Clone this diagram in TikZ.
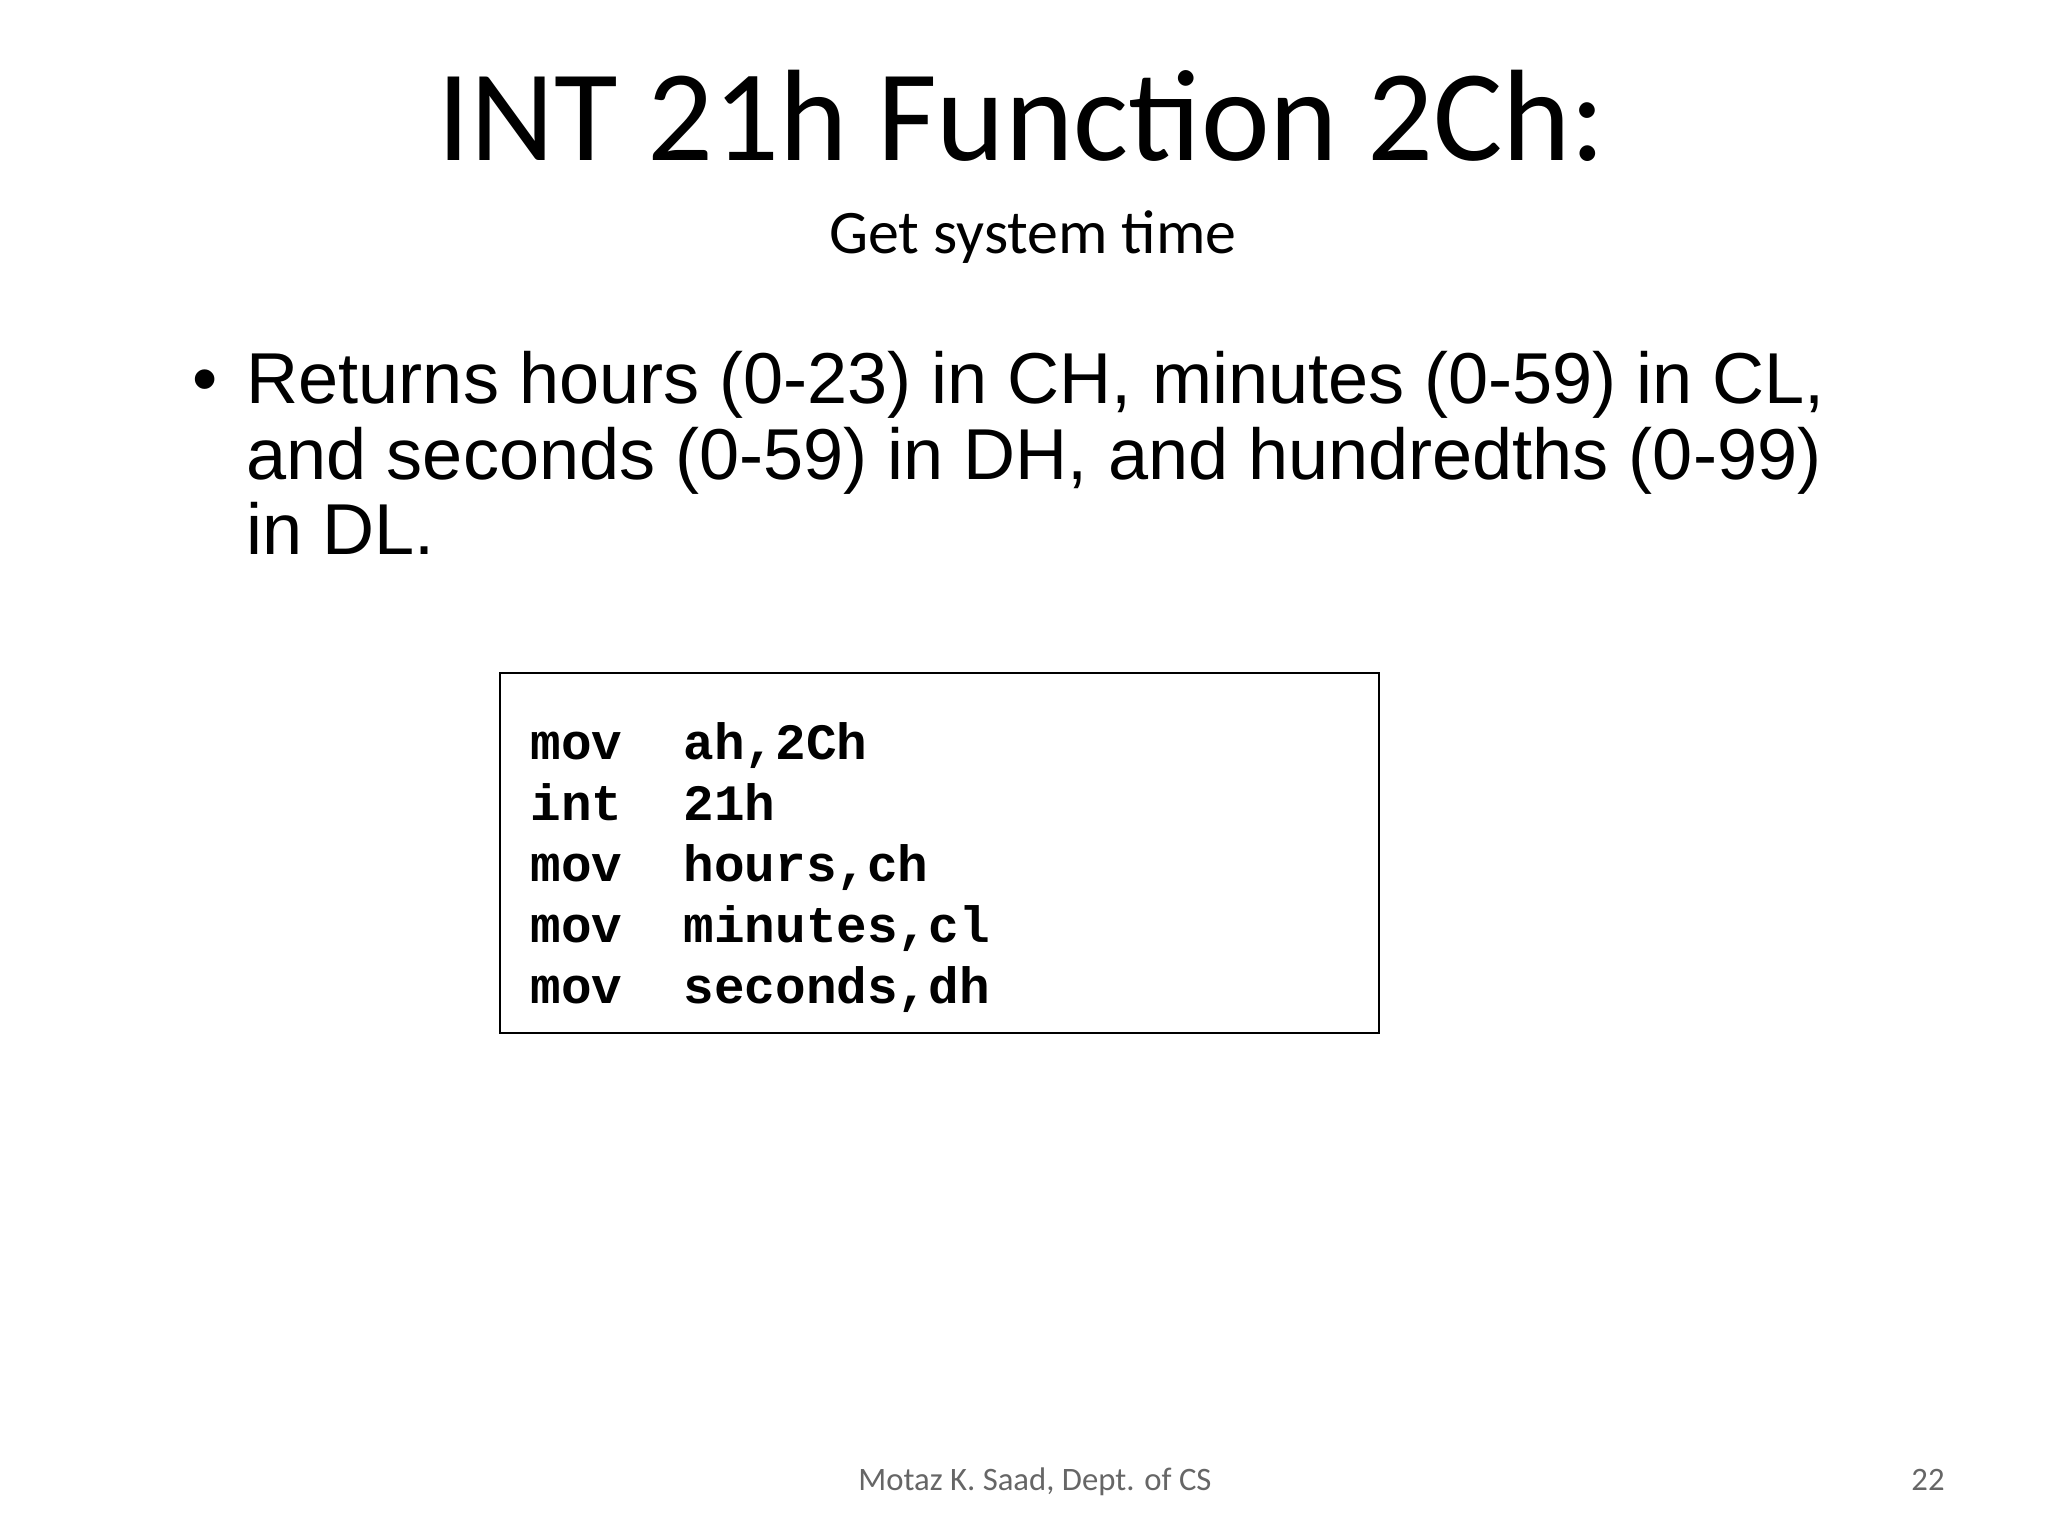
\documentclass[tikz,border=0pt]{standalone}
\usepackage{fontspec}
\setmainfont{Carlito}
\newfontfamily\arialf{Liberation Sans}
\newfontfamily\courf{Liberation Mono}
\begin{document}
\begin{tikzpicture}[x=0.01cm,y=-0.01cm,
  title/.style={font=\fontsize{37}{40}\selectfont},
  sub/.style={font=\fontsize{17.6}{20}\selectfont},
  body/.style={font=\arialf\fontsize{20.5}{21.6}\selectfont,anchor=base west,inner sep=0},
  code/.style={font=\courf\bfseries\fontsize{14.5}{17.4}\selectfont,anchor=base west,inner sep=0},
  foot/.style={font=\fontsize{9.3}{11}\selectfont,text=black!60,anchor=base}]
\useasboundingbox (0,0) rectangle (2048,1536);
\node[title,anchor=base] (t) at (1022,160) {INT 21h Function 2Ch:};
\node[sub,anchor=base] (s) at (1033,253) {Get system time};
\node[body] (b) at (192,403) {•};
\node[body] (l1) at (246,403) {Returns hours (0-23) in CH, minutes (0-59) in CL,};
\node[body] (l2) at (246,479) {and seconds (0-59) in DH, and hundredths (0-99)};
\node[body] (l3) at (246,554) {in DL.};
\draw[line width=0.8pt] (500,673) rectangle (1379,1033);
\node[code] (c1) at (530,759) {mov\ \ ah,2Ch};
\node[code] (c2) at (530,820) {int\ \ 21h};
\node[code] (c3) at (530,881) {mov\ \ hours,ch};
\node[code] (c4) at (530,942) {mov\ \ minutes,cl};
\node[code] (c5) at (530,1003) {mov\ \ seconds,dh};
\node[foot] (f) at (1035,1490) {Motaz K. Saad, Dept. of CS};
\node[foot] (p) at (1928,1490) {22};
\end{tikzpicture}
\end{document}
